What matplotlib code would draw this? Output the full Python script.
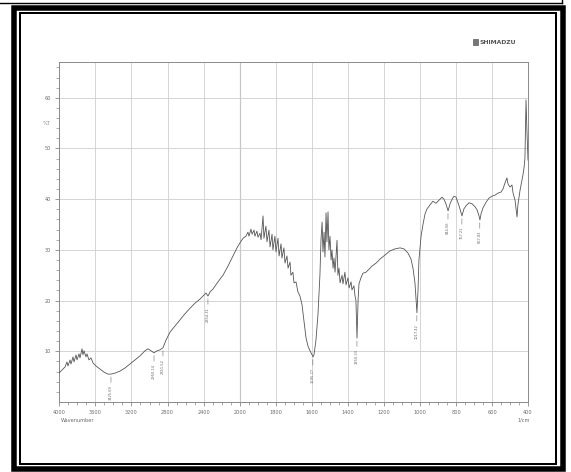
import numpy as np
import matplotlib
matplotlib.use("Agg")
import matplotlib.pyplot as plt
from matplotlib.patches import Rectangle
from matplotlib.lines import Line2D
from matplotlib.ticker import FixedLocator, NullFormatter

# IR transmittance spectrum (wavenumber in 1/cm, transmittance in %T)
wavenumber = [
    4000, 3967, 3934, 3912, 3901, 3878, 3867, 3845, 3834, 3812, 3801, 3779, 3768,
    3746, 3735, 3724, 3702, 3691, 3669, 3646, 3624, 3591, 3547, 3503, 3459, 3425,
    3381, 3326, 3271, 3215, 3160, 3105, 3050, 3017, 2984, 2950, 2917, 2884, 2851,
    2818, 2773, 2718, 2663, 2608, 2552, 2497, 2442, 2398, 2376, 2354, 2331, 2298,
    2243, 2188, 2133, 2077, 2033, 2000,
    1983, 1967, 1956, 1950, 1939, 1933, 1922, 1917, 1906, 1900, 1889, 1883, 1872,
    1867, 1856, 1850, 1839, 1833, 1822, 1817, 1806, 1800, 1789, 1783, 1772, 1767,
    1756, 1750, 1739, 1733, 1722, 1717, 1706, 1700, 1689, 1678, 1667, 1656, 1644,
    1633, 1622, 1611, 1600, 1594, 1589, 1578, 1567, 1556, 1550, 1544, 1539, 1533,
    1528, 1522, 1517, 1511, 1506, 1500, 1494, 1489, 1483, 1478, 1472, 1461, 1456,
    1450, 1444, 1433, 1428, 1417, 1411, 1400, 1394, 1383, 1378, 1367, 1361, 1356,
    1350, 1344, 1339, 1328, 1317, 1300, 1283, 1267, 1244, 1222, 1194, 1167, 1139,
    1111, 1089, 1067, 1050, 1039, 1028, 1022, 1017, 1011, 1006, 994, 983, 972,
    961, 944, 928, 911, 900, 889, 878, 867, 856, 844, 833, 822, 811, 800, 789,
    778, 767, 756, 744, 728, 711, 694, 683, 672, 667, 661, 650, 633, 617, 600,
    583, 567, 550, 539, 528, 517, 511, 500, 489, 483, 472, 467, 461, 456, 444,
    433, 428, 422, 417, 411, 406, 400,
]
transmittance = [
    5.7, 6.3, 6.9, 7.9, 7.1, 8.3, 7.5, 8.9, 7.9, 9.3, 8.3, 9.5, 8.7,
    10.5, 9.3, 10.1, 8.9, 9.5, 8.3, 8.7, 7.7, 7.1, 6.5, 5.9, 5.5, 5.5,
    5.7, 6.1, 6.7, 7.5, 8.3, 9.1, 10.1, 10.5, 10.1, 9.7, 10.1, 10.3, 10.7,
    12.2, 13.8, 15.0, 16.2, 17.4, 18.5, 19.5, 20.3, 21.1, 21.5, 20.9, 21.7, 22.3,
    23.7, 25.0, 26.8, 28.8, 30.4, 31.4,
    32.3, 32.7, 33.5, 32.7, 34.1, 33.1, 33.9, 32.7, 33.7, 32.5, 33.3, 32.0, 36.7,
    32.3, 34.7, 31.6, 33.9, 30.6, 33.1, 30.0, 32.7, 29.6, 32.3, 28.8, 31.2, 28.4,
    30.4, 27.4, 28.8, 26.4, 27.6, 25.0, 25.6, 23.5, 23.7, 21.7, 20.9, 19.3, 15.8,
    12.6, 11.0, 10.1, 9.3, 8.9, 9.3, 12.2, 17.2, 25.0, 32.0, 35.5, 29.6, 33.5,
    28.6, 37.3, 31.6, 37.5, 30.0, 32.7, 28.0, 30.0, 26.4, 28.4, 25.6, 31.9, 25.0,
    26.4, 23.5, 25.0, 23.3, 25.6, 23.1, 24.5, 22.5, 23.7, 22.1, 22.9, 20.9, 20.1,
    12.6, 20.1, 23.3, 24.5, 25.4, 25.6, 26.2, 26.8, 27.4, 28.2, 29.0, 29.8, 30.2,
    30.4, 30.2, 29.4, 28.2, 26.4, 23.5, 20.1, 17.6, 22.1, 28.0, 32.7, 35.1, 37.1,
    38.1, 38.9, 39.6, 39.2, 39.6, 40.0, 40.4, 40.0, 39.1, 37.7, 39.1, 40.0, 40.6, 40.4, 39.3,
    38.1, 36.7, 38.1, 38.7, 39.3, 39.1, 38.5, 37.9, 36.7, 35.9, 37.1, 38.3, 39.4, 40.2, 40.6,
    40.8, 41.2, 41.4, 42.0, 43.2, 44.2, 43.0, 42.4, 42.8, 41.2, 39.8, 38.3, 36.5, 38.9, 41.8,
    43.8, 44.8, 46.2, 48.1, 59.6, 53.6, 47.7,
]

# labelled peaks
peak_wn = [3425.69, 2950.14, 2851.52, 2354.31, 1595.27, 1350.33, 1017.42, 844.56, 767.21, 667.83]
peak_t = [5.5, 9.7, 10.7, 20.9, 8.9, 12.6, 17.6, 37.7, 36.7, 35.9]

xticks_major = [4000, 3600, 3200, 2800, 2400, 2000, 1800, 1600, 1400, 1200, 1000, 800, 600, 400]
yticks_major = [10, 20, 30, 40, 50, 60]

SPLIT = 181 / 469  # share of the axis used by 4000-2000 1/cm


# piecewise linear wavenumber scale, twice as wide below 2000 1/cm
def fwd(w):
    w = np.asarray(w, dtype=float)
    return np.where(w >= 2000, (w - 2000) / 2000 * SPLIT,
                    (w - 2000) / 1600 * (1 - SPLIT))


def inv(p):
    p = np.asarray(p, dtype=float)
    return np.where(p >= 0, 2000 + p / SPLIT * 2000,
                    2000 + p / (1 - SPLIT) * 1600)


W, H = 571, 472
fig = plt.figure(figsize=(W / 100, H / 100), dpi=100)
fig.patch.set_facecolor("white")


def px_rect(x0, y0, x1, y1, lw):
    # rectangle given in pixel coordinates, y measured from the top
    return Rectangle((x0 / W, 1 - y1 / H), (x1 - x0) / W, (y1 - y0) / H,
                     transform=fig.transFigure, fill=False, ec="black",
                     lw=lw * 0.72, joinstyle="miter")


# page borders
fig.add_artist(px_rect(14, 7.5, 563, 468.5, 5.5))
fig.add_artist(px_rect(19.7, 13, 556, 463.5, 2))
fig.add_artist(Line2D([0, 562 / W], [1 - 2.8 / H, 1 - 2.8 / H], transform=fig.transFigure,
                      color="black", lw=1.0))
fig.add_artist(Line2D([562 / W, 562 / W], [1, 1 - 2.8 / H], transform=fig.transFigure,
                      color="black", lw=1.0))

ax = fig.add_axes([59 / W, 1 - 402 / H, 469 / W, 340 / H])
ax.set_xscale("function", functions=(fwd, inv))
ax.set_xlim(4000, 400)
ax.set_ylim(0, 67.06)

grey = "#8a8a8a"
for s in ax.spines.values():
    s.set_color(grey)
    s.set_linewidth(0.7)

ax.xaxis.set_major_locator(FixedLocator(xticks_major))
minor_x = [w for w in range(4000, 2000, -100)] + [w for w in range(2000, 399, -50)]
ax.xaxis.set_minor_locator(FixedLocator(minor_x))
ax.xaxis.set_minor_formatter(NullFormatter())
ax.set_xticklabels([str(t) for t in xticks_major])
ax.yaxis.set_major_locator(FixedLocator(yticks_major))
ax.yaxis.set_minor_locator(FixedLocator(np.arange(2, 67, 2)))
ax.set_yticklabels([str(t) for t in yticks_major])

ax.tick_params(which="major", length=3, width=0.6, color=grey, labelsize=3.6,
               labelcolor="#6a6a6a", pad=2.5)
ax.tick_params(which="minor", length=2, width=0.5, color=grey)

ax.grid(True, which="major", color="#cfcfcf", lw=0.6)
ax.axvline(2000, color="#9a9a9a", lw=0.8, zorder=1)

ax.plot(wavenumber, transmittance, color="#555555", lw=0.6, zorder=3)

for w, t in zip(peak_wn, peak_t):
    ax.annotate(f"{w:.2f}", xy=(w, t), xytext=(0, -8), textcoords="offset points",
                rotation=90, ha="center", va="top", fontsize=2.6, color="#6a6a6a",
                arrowprops=dict(arrowstyle="-", lw=0.4, color="#6a6a6a",
                                shrinkA=0, shrinkB=2))

fig.text(47 / W, 1 - 123 / H, "%T", fontsize=3.6, color="#8a8a8a", ha="center", va="center")
fig.text(61 / W, 1 - 420 / H, "Wavenumber", fontsize=3.6, color="#6a6a6a",
         ha="left", va="center")
fig.text(524 / W, 1 - 420 / H, "1/cm", fontsize=3.6, color="#6a6a6a",
         ha="center", va="center")

# logo
fig.add_artist(Rectangle((473 / W, 1 - 45 / H), 5 / W, 6 / H, transform=fig.transFigure,
                         fc="#777777", ec="#444444", lw=0.4))
fig.text(479 / W, 1 - 42 / H, "SHIMADZU", fontsize=4.4, fontweight="bold",
         color="#555555", ha="left", va="center")

fig.savefig("out.png", dpi=100, facecolor="white")
